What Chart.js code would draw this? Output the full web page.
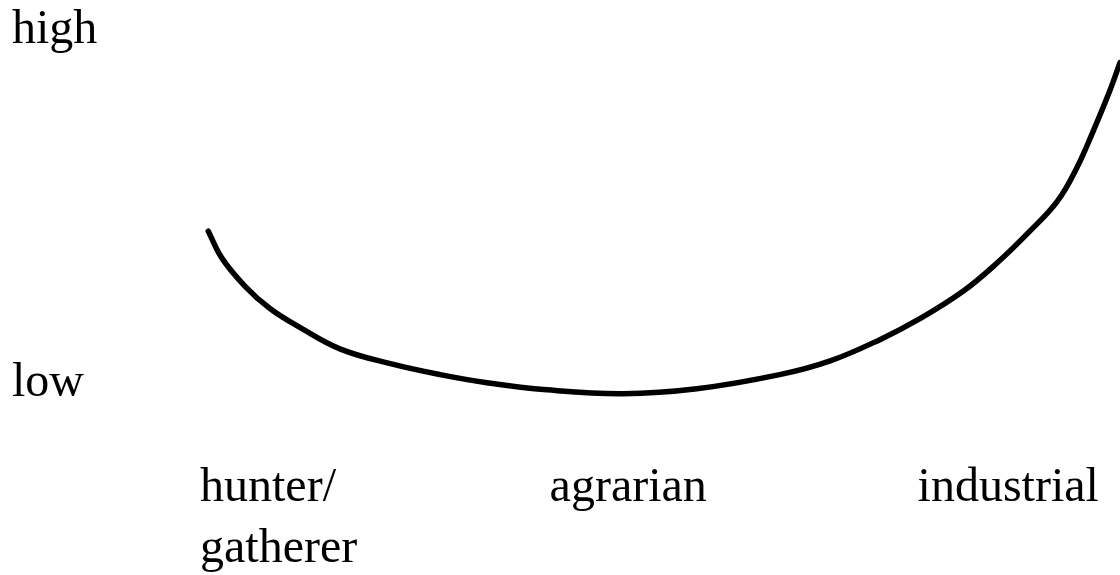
<!DOCTYPE html>
<html>
<head>
<meta charset="utf-8">
<script src="https://cdn.jsdelivr.net/npm/chart.js@4"></script>
<style>
  html, body { margin: 0; padding: 0; background: #fff; }
  #wrap { width: 1120px; height: 575px; }
</style>
</head>
<body>
<div id="wrap"><canvas id="chart" width="1120" height="575"></canvas></div>
<script>
// stages of development along the bottom, and where each label sits on the x scale
const stageLabels = [["hunter/", "gatherer"], "agrarian", "industrial"];
const stageTicks = [0, 3.8, 7.8];

// level labels on the left
const levelLabels = ["low", "high"];
const levelTicks = [0, 10];

// the curve
const curveX = [0.09, 0.24, 0.49, 0.76, 1.09, 1.52, 2.07, 2.61, 3.12, 3.77, 4.6, 5.4,
  6.3, 6.85, 7.39, 7.83, 8.29, 8.66, 9.02, 9.32, 9.53, 9.71, 9.89, 10.0];
const curveY = [4.32, 3.55, 2.76, 2.13, 1.59, 0.99, 0.57, 0.26, 0.03, -0.17, -0.28, -0.14,
  0.26, 0.65, 1.25, 1.85, 2.61, 3.41, 4.32, 5.17, 6.11, 7.16, 8.3, 9.09];

const labelFont = { family: "'Liberation Serif', 'Times New Roman', serif", size: 48, lineHeight: 1.27 };

const ctx = document.getElementById("chart").getContext("2d");

new Chart(ctx, {
  type: "line",
  data: {
    datasets: [{
      data: curveX.map((x, i) => ({ x: x, y: curveY[i] })),
      borderColor: "#000",
      borderWidth: 5.5,
      borderCapStyle: "round",
      pointRadius: 0,
      tension: 0.4,
      fill: false,
    }],
  },
  options: {
    responsive: false,
    animation: false,
    layout: { padding: { left: 12, right: 0, top: 0, bottom: 0 } },
    plugins: { legend: { display: false }, tooltip: { enabled: false } },
    scales: {
      x: {
        type: "linear",
        min: 0,
        max: 10,
        border: { display: false },
        grid: { display: false, drawTicks: false },
        afterBuildTicks: (scale) => {
          scale.ticks = stageTicks.map((v) => ({ value: v }));
        },
        afterFit: (scale) => { scale.height = 117; },
        ticks: {
          align: "start",
          padding: 0,
          maxRotation: 0,
          autoSkip: false,
          color: "#000",
          font: labelFont,
          callback: (v) => stageLabels[stageTicks.indexOf(v)],
        },
      },
      y: {
        type: "linear",
        min: -2.1,
        max: 10,
        border: { display: false },
        grid: { display: false, drawTicks: false },
        afterBuildTicks: (scale) => {
          scale.ticks = levelTicks.map((v) => ({ value: v }));
        },
        afterFit: (scale) => { scale.width = 188; },
        ticks: {
          crossAlign: "far",
          padding: 0,
          autoSkip: false,
          color: "#000",
          font: labelFont,
          callback: (v) => levelLabels[levelTicks.indexOf(v)],
        },
      },
    },
  },
});
</script>
</body>
</html>
